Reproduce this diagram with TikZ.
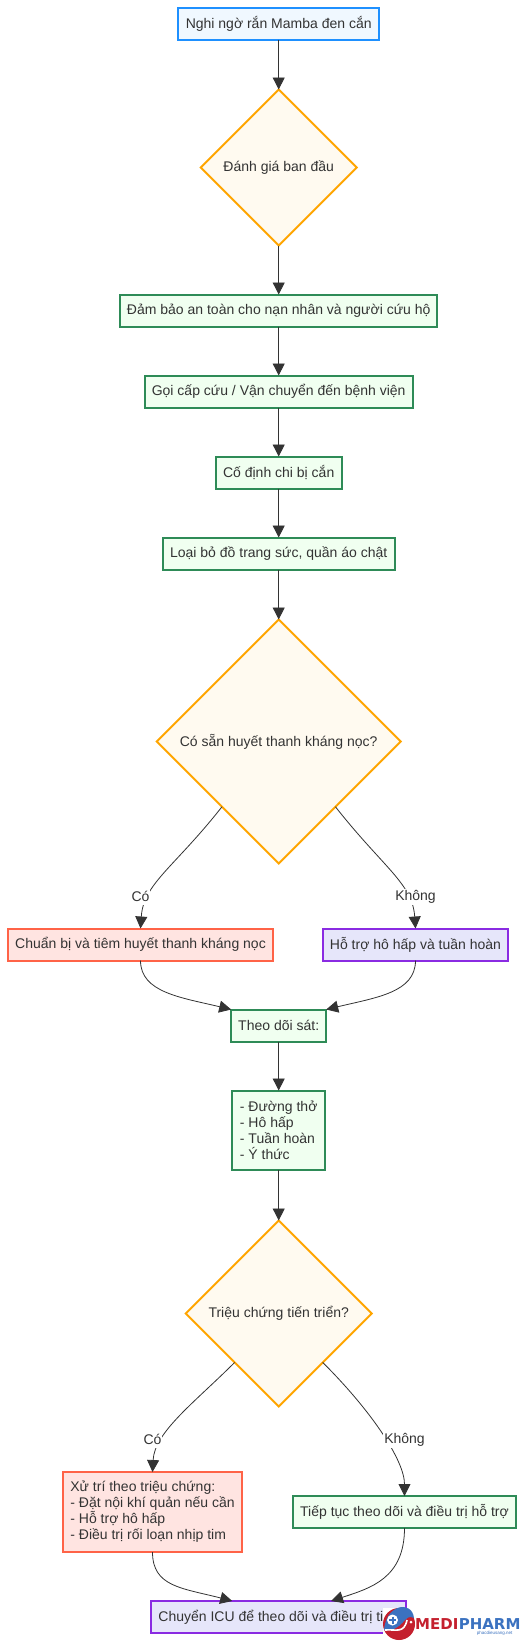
\documentclass[tikz,border=0pt]{standalone}
\usepackage{fontspec}
\setmainfont{Liberation Sans}
\newfontfamily\logofont{DejaVu Sans}
\usetikzlibrary{arrows.meta,positioning,shapes.geometric}
\definecolor{ink}{HTML}{333333}
\definecolor{skyline}{HTML}{1E90FF}
\definecolor{skyfill}{HTML}{F0F8FF}
\definecolor{leafline}{HTML}{2E8B57}
\definecolor{leaffill}{HTML}{F0FFF0}
\definecolor{roseline}{HTML}{FF6347}
\definecolor{rosefill}{HTML}{FFE4E1}
\definecolor{violetline}{HTML}{8A2BE2}
\definecolor{violetfill}{HTML}{E6E6FA}
\definecolor{amberline}{HTML}{FFA500}
\definecolor{amberfill}{HTML}{FFFAF0}
\definecolor{logoblue}{HTML}{3B72C0}
\definecolor{logored}{HTML}{C4202E}
\tikzset{
  x=1pt, y=1pt,
  base/.style={line width=2pt, inner sep=0pt, outer sep=0pt, text=ink, align=center,
               font=\fontsize{14}{16}\selectfont},
  startbox/.style={base, draw=skyline, fill=skyfill},
  stepbox/.style={base, draw=leafline, fill=leaffill},
  redbox/.style={base, draw=roseline, fill=rosefill},
  purplebox/.style={base, draw=violetline, fill=violetfill},
  choice/.style={base, diamond, aspect=1, draw=amberline, fill=amberfill},
  flow/.style={-{Triangle[length=12pt,width=12pt]}, ink, line width=.8pt},
  lbl/.style={font=\fontsize{14}{16}\selectfont, text=ink, fill=white, inner sep=1pt, minimum height=16pt},
  logotext/.style={font=\logofont\bfseries\fontsize{15}{15}\selectfont, inner sep=0pt},
}
\begin{document}
\begin{tikzpicture}
  \useasboundingbox (0,0) rectangle (524,-1641);
  \node[startbox, minimum width=201pt, minimum height=32pt] (start) at (278.7,-23.5) {Nghi ngờ rắn Mamba đen cắn};
  \node[choice, minimum width=156pt, minimum height=156pt, below=50pt of start] (assess) {Đánh giá ban đầu};
  \node[stepbox, minimum width=317pt, minimum height=32pt, below=49pt of assess] (safe) {Đảm bảo an toàn cho nạn nhân và người cứu hộ};
  \node[stepbox, minimum width=268pt, minimum height=32pt, below=49pt of safe] (call) {Gọi cấp cứu / Vận chuyển đến bệnh viện};
  \node[stepbox, minimum width=126pt, minimum height=32pt, below=49pt of call] (fix) {Cố định chi bị cắn};
  \node[stepbox, minimum width=232pt, minimum height=32pt, below=49pt of fix] (strip) {Loại bỏ đồ trang sức, quần áo chật};
  \node[choice, minimum width=244pt, minimum height=244pt, below=50pt of strip] (serum) {Có sẵn huyết thanh kháng nọc?};
  \node[redbox, minimum width=265pt, minimum height=32pt, below=65pt of serum, xshift=-138.2pt] (inject) {Chuẩn bị và tiêm huyết thanh kháng nọc};
  \node[purplebox, minimum width=185pt, minimum height=32pt, below=65pt of serum, xshift=136.8pt] (support) {Hỗ trợ hô hấp và tuần hoàn};
  \node[stepbox, minimum width=95pt, minimum height=32pt, below=146pt of serum] (watch) {Theo dõi sát:};
  \node[stepbox, minimum width=93pt, minimum height=79pt, below=49pt of watch, align=left] (list) {- Đường thở\\- Hô hấp\\- Tuần hoàn\\- Ý thức};
  \node[choice, minimum width=186pt, minimum height=186pt, below=51pt of list] (worse) {Triệu chứng tiến triển?};
  \node[redbox, minimum width=179pt, minimum height=80pt, below=65.5pt of worse, xshift=-126.2pt, align=left] (treat) {Xử trí theo triệu chứng:\\- Đặt nội khí quản nếu cần\\- Hỗ trợ hô hấp\\- Điều trị rối loạn nhịp tim};
  \node[stepbox, minimum width=223pt, minimum height=32pt, below=89.5pt of worse, xshift=125.8pt] (keep) {Tiếp tục theo dõi và điều trị hỗ trợ};
  \node[purplebox, minimum width=255pt, minimum height=32pt, below=194.5pt of worse] (icu) {Chuyển ICU để theo dõi và điều trị tiếp};
  \draw[flow] (start) -- (assess);
  \draw[flow] (assess) -- (safe);
  \draw[flow] (safe) -- (call);
  \draw[flow] (call) -- (fix);
  \draw[flow] (fix) -- (strip);
  \draw[flow] (strip) -- (serum);
  \draw[flow] (serum.-131) .. controls +(-48,-61) and +(3,45) .. (inject.north);
  \draw[flow] (serum.-49) .. controls +(48,-61) and +(-3,45) .. (support.north);
  \draw[flow] (inject.south) .. controls +(0,-32) and +(-50,12) .. (watch.north west);
  \draw[flow] (support.south) .. controls +(0,-32) and +(50,12) .. (watch.north east);
  \draw[flow] (watch) -- (list);
  \draw[flow] (list) -- (worse);
  \draw[flow] (worse.-132) .. controls +(-40,-40) and +(2,40) .. (treat.north);
  \draw[flow] (worse.-48) .. controls +(50,-50) and +(0,35) .. (keep.north);
  \draw[flow] (treat.south) .. controls +(0,-35) and +(-50,13) .. (icu.161.7);
  \draw[flow] (keep.south) .. controls +(0,-50) and +(40,13) .. (icu.17.9);
  \node[lbl, above=23.5pt of inject] (yesserum) {Có};
  \node[lbl, above=23.5pt of support] (noserum) {Không};
  \node[lbl, above=24pt of treat] (yesworse) {Có};
  \node[lbl, above=48pt of keep] (noworse) {Không};
  % logo
  \fill[white] (383,-1608) rectangle (524,-1641);
  \fill[logored] (399,-1624) circle (16);
  \fill[logoblue] (384,-1630) .. controls (386,-1604) and (412,-1600) .. (414,-1618) .. controls (404,-1612) and (404,-1632) .. (384,-1630);
  \draw[white, line width=1.6pt] (385,-1630) .. controls (396,-1629) and (404,-1634) .. (407,-1620);
  \fill[white] (392.5,-1620) circle (5.5);
  \draw[logoblue, line width=2pt] (389,-1620) -- (396,-1620) (392.5,-1616.5) -- (392.5,-1623.5);
  \fill[white] (411,-1622) circle (1.5);
  \node[logotext, text=logored, anchor=west] (medi) at (415,-1624) {MEDI};
  \node[logotext, text=logoblue, right=0pt of medi] (pharm) {PHARM};
  \node[font=\fontsize{4.5}{5}\selectfont, text=logoblue, inner sep=0pt, below left=1pt and 8pt of pharm.south east] (site) {phacdieusang.net};
\end{tikzpicture}
\end{document}
